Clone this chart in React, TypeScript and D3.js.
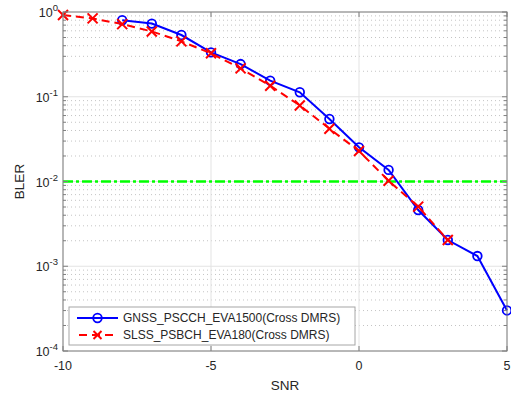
import React from "react";
import * as d3 from "d3";

const snrRed = [-10, -9, -8, -7, -6, -5, -4, -3, -2, -1, 0, 1, 2, 3];
const blerRed = [0.92, 0.84, 0.72, 0.59, 0.45, 0.326, 0.216, 0.135, 0.079, 0.042, 0.0229, 0.0102, 0.00505, 0.00204];
const snrBlue = [-8, -7, -6, -5, -4, -3, -2, -1, 0, 1, 2, 3, 4, 5];
const blerBlue = [0.8, 0.73, 0.535, 0.334, 0.243, 0.155, 0.113, 0.0546, 0.0253, 0.0137, 0.00461, 0.00204, 0.00132, 0.000301];
const xTicks = [-10, -5, 0, 5];
const yExps = [0, -1, -2, -3, -4];
const target = 0.01;
const seriesNames = ["GNSS_PSCCH_EVA1500(Cross DMRS)", "SLSS_PSBCH_EVA180(Cross DMRS)"];

const W = 511, H = 394;
const L = 63, R = 507, T = 12, B = 351;

export default function App() {
  const x = d3.scaleLinear().domain([-10, 5]).range([L, R]);
  const y = d3.scaleLog().domain([1e-4, 1]).range([B, T]);
  const line = d3.line<[number, number]>().x(d => x(d[0])).y(d => y(d[1]));
  const blue = snrBlue.map((s, i) => [s, blerBlue[i]] as [number, number]);
  const red = snrRed.map((s, i) => [s, blerRed[i]] as [number, number]);
  const minors: number[] = [];
  for (let e = -4; e < 0; e++) for (let m = 2; m <= 9; m++) minors.push(m * Math.pow(10, e));
  const font = "'Liberation Sans', Arial, sans-serif";
  const txt = "#262626";
  const axc = "#7f7f7f";
  const xs = 5;
  return (
    <svg width={W} height={H} style={{ position: "absolute", left: 0, top: 0, background: "#fff" }} fontFamily={font}>
      <rect x={0} y={0} width={W} height={H} fill="#fff" />
      {minors.map((v, i) => (
        <line key={"mg" + i} x1={L} x2={R} y1={y(v)} y2={y(v)} stroke="#c4c4c4" strokeWidth={1} strokeDasharray="1,3" />
      ))}
      {yExps.map(e => (
        <line key={"yg" + e} x1={L} x2={R} y1={y(Math.pow(10, e))} y2={y(Math.pow(10, e))} stroke="#e3e3e3" strokeWidth={1} />
      ))}
      {xTicks.map(t => (
        <line key={"xg" + t} x1={x(t)} x2={x(t)} y1={T} y2={B} stroke="#e3e3e3" strokeWidth={1} />
      ))}
      <line x1={L} x2={R} y1={y(target)} y2={y(target)} stroke="#00ff00" strokeWidth={2.4} strokeDasharray="10,3,3,3" />
      <path d={line(blue) || ""} fill="none" stroke="#0000ff" strokeWidth={2} />
      {blue.map((d, i) => (
        <circle key={"bc" + i} cx={x(d[0])} cy={y(d[1])} r={4.3} fill="none" stroke="#0000ff" strokeWidth={1.8} />
      ))}
      <path d={line(red) || ""} fill="none" stroke="#ff0000" strokeWidth={2} strokeDasharray="8,5" />
      {red.map((d, i) => {
        const cx = x(d[0]), cy = y(d[1]);
        return (
          <g key={"rx" + i} stroke="#ff0000" strokeWidth={2}>
            <line x1={cx - xs} x2={cx + xs} y1={cy - xs} y2={cy + xs} />
            <line x1={cx - xs} x2={cx + xs} y1={cy + xs} y2={cy - xs} />
          </g>
        );
      })}
      <rect x={L} y={T} width={R - L} height={B - T} fill="none" stroke={axc} strokeWidth={1} />
      {xTicks.map(t => (
        <g key={"xt" + t}>
          <line x1={x(t)} x2={x(t)} y1={B} y2={B - 5} stroke={axc} />
          <line x1={x(t)} x2={x(t)} y1={T} y2={T + 5} stroke={axc} />
          <text x={x(t)} y={370} textAnchor="middle" fontSize={12.5} fill={txt}>{t}</text>
        </g>
      ))}
      {yExps.map(e => {
        const yy = y(Math.pow(10, e));
        return (
          <g key={"yt" + e}>
            <line x1={L} x2={L + 5} y1={yy} y2={yy} stroke={axc} />
            <line x1={R} x2={R - 5} y1={yy} y2={yy} stroke={axc} />
            <text x={L - 5} y={yy + 5} textAnchor="end" fontSize={12.5} fill={txt}>
              10<tspan fontSize={9.5} dy={-6}>{e}</tspan>
            </text>
          </g>
        );
      })}
      {minors.map((v, i) => (
        <g key={"mt" + i}>
          <line x1={L} x2={L + 3} y1={y(v)} y2={y(v)} stroke={axc} />
          <line x1={R} x2={R - 3} y1={y(v)} y2={y(v)} stroke={axc} />
        </g>
      ))}
      <text x={x(-2.5)} y={390} textAnchor="middle" fontSize={13.5} fill={txt}>SNR</text>
      <text transform={`translate(24, ${(T + B) / 2}) rotate(-90)`} textAnchor="middle" fontSize={13.5} fill={txt}>BLER</text>
      <rect x={69} y={307} width={286} height={38} fill="#fff" stroke="#a6a6a6" strokeWidth={1} />
      <line x1={77} x2={118} y1={318} y2={318} stroke="#0000ff" strokeWidth={2} />
      <circle cx={97.5} cy={318} r={4.3} fill="none" stroke="#0000ff" strokeWidth={1.8} />
      <text x={123} y={322} fontSize={12} fill={txt}>{seriesNames[0]}</text>
      <line x1={77} x2={118} y1={335} y2={335} stroke="#ff0000" strokeWidth={2} strokeDasharray="8,5" strokeDashoffset={-2} />
      <g stroke="#ff0000" strokeWidth={2}>
        <line x1={97.5 - 4} x2={97.5 + 4} y1={331} y2={339} />
        <line x1={97.5 - 4} x2={97.5 + 4} y1={339} y2={331} />
      </g>
      <text x={123} y={339} fontSize={12} fill={txt}>{seriesNames[1]}</text>
    </svg>
  );
}
